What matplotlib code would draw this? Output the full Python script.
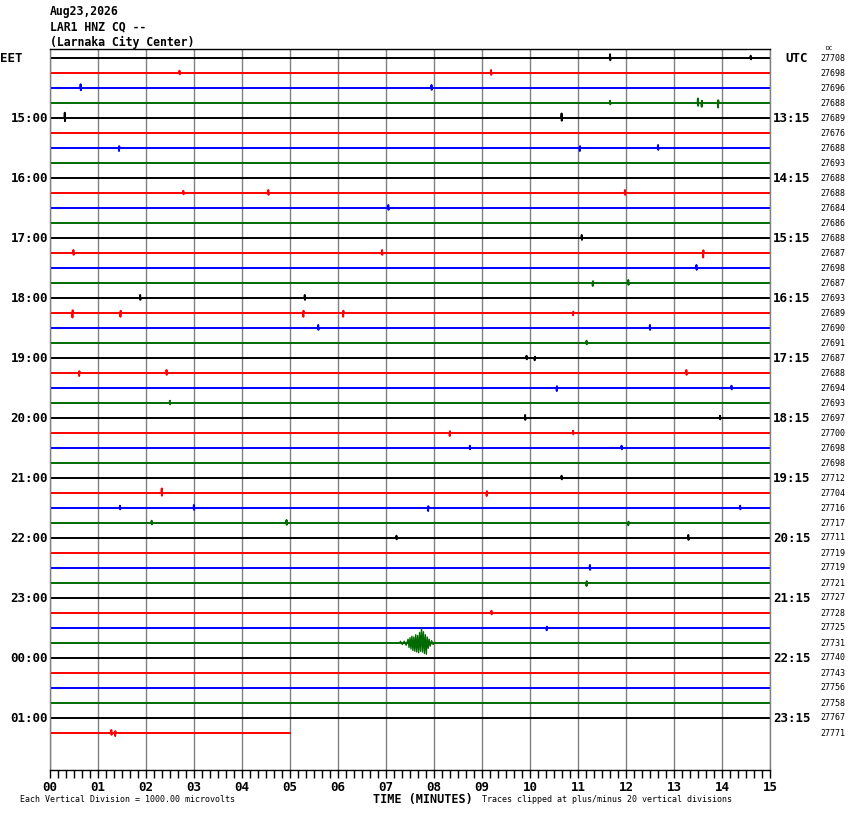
import numpy as np
import matplotlib
matplotlib.use("Agg")
import matplotlib.pyplot as plt

# ---------------- data ----------------
header_lines = ["Aug23,2026", "LAR1 HNZ CQ --", "(Larnaka City Center)"]
n_rows = 46
row_colors = ["#000000", "#ff0000", "#0000ff", "#006a00"]
last_row_end_min = 5.0
left_hour_labels = ["15:00", "16:00", "17:00", "18:00", "19:00", "20:00",
                    "21:00", "22:00", "23:00", "00:00", "01:00"]
right_hour_labels = ["13:15", "14:15", "15:15", "16:15", "17:15", "18:15",
                     "19:15", "20:15", "21:15", "22:15", "23:15"]
hour_label_rows = [4, 8, 12, 16, 20, 24, 28, 32, 36, 40, 44]
dc_values = [27708, 27698, 27696, 27688, 27689, 27676, 27688, 27693,
             27688, 27688, 27684, 27686, 27688, 27687, 27698, 27687,
             27693, 27689, 27690, 27691, 27687, 27688, 27694, 27693,
             27697, 27700, 27698, 27698, 27712, 27704, 27716, 27717,
             27711, 27719, 27719, 27721, 27727, 27728, 27725, 27731,
             27740, 27743, 27756, 27758, 27767, 27771]
minute_labels = ["%02d" % m for m in range(16)]

# notable spikes read from the record: (row, minute, amplitude in divisions, + = up)
spikes = [
    (0, 11.67, 0.25), (0, 14.6, 0.15), (1, 9.19, 0.2), (1, 2.7, 0.15),
    (2, 0.64, 0.25), (2, 7.95, 0.2), (3, 11.67, 0.15), (3, 13.5, 0.3),
    (3, 13.58, -0.25), (3, 13.92, -0.3), (4, 0.31, 0.35), (4, 10.66, 0.3),
    (6, 1.44, -0.2), (6, 11.04, -0.2), (6, 12.67, 0.2), (9, 2.78, 0.15),
    (9, 4.55, 0.2), (9, 11.98, 0.2), (10, 7.05, 0.2), (12, 11.08, 0.2),
    (13, 0.49, 0.2), (13, 6.92, 0.2), (13, 13.61, -0.3), (14, 13.47, 0.2),
    (15, 11.31, -0.2), (15, 12.05, 0.2), (16, 1.88, 0.2), (16, 5.31, 0.2),
    (17, 0.47, -0.3), (17, 1.47, -0.25), (17, 5.28, -0.25), (17, 6.11, -0.25),
    (17, 10.9, -0.15), (18, 5.59, 0.2), (18, 12.5, 0.2), (19, 11.18, 0.15),
    (20, 9.93, 0.15), (20, 10.1, -0.15), (21, 0.61, -0.2), (21, 2.43, 0.2),
    (21, 13.26, 0.2), (22, 10.56, -0.2), (22, 14.2, 0.15), (23, 2.5, 0.15),
    (24, 9.9, 0.2), (24, 13.96, 0.15), (25, 8.33, -0.2), (25, 10.9, 0.15),
    (26, 8.75, 0.15), (26, 11.91, 0.15), (28, 10.66, 0.15), (29, 2.33, 0.3),
    (29, 9.1, -0.2), (30, 1.46, 0.15), (30, 3.0, 0.2), (30, 7.88, -0.2),
    (30, 14.38, 0.15), (31, 2.12, 0.15), (31, 4.93, 0.2), (31, 12.05, -0.15),
    (32, 7.22, 0.15), (32, 13.3, 0.2), (34, 11.25, 0.2), (35, 11.18, -0.2),
    (37, 9.2, 0.15), (38, 10.35, -0.15), (45, 1.28, 0.2), (45, 1.36, -0.2),
]

# local earthquake on row 39 (green)
event_row = 39
event_minutes = [7.30, 7.34, 7.38, 7.42, 7.46, 7.48, 7.50, 7.52, 7.54, 7.56,
                 7.58, 7.60, 7.62, 7.64, 7.66, 7.68, 7.70, 7.72, 7.74, 7.76,
                 7.78, 7.80, 7.82, 7.84, 7.86, 7.88, 7.90, 7.92, 7.95, 7.98, 8.02]
event_amps = [0.10, -0.10, 0.12, -0.15, 0.25, -0.30, 0.35, -0.40, 0.45, -0.50,
              0.40, -0.55, 0.55, -0.60, 0.50, -0.65, 0.70, -0.55, 0.98, -0.60,
              0.75, -0.70, 0.55, -0.75, 0.40, -0.35, 0.25, -0.20, 0.15, -0.10, 0.05]

# ---------------- figure ----------------
W, H = 850, 814
fig = plt.figure(figsize=(W / 100, H / 100), dpi=100)
ax_left, ax_right, ax_top, ax_bot = 50, 770, 49, 770
ax = fig.add_axes([ax_left / W, 1 - ax_bot / H, (ax_right - ax_left) / W,
                   (ax_bot - ax_top) / H])
row0_px, row_px = 58, 15
ax.set_xlim(0, 15)
ax.set_ylim((ax_bot - row0_px) / row_px, (ax_top - row0_px) / row_px)

mono = "DejaVu Sans Mono"

for m in range(16):
    ax.axvline(m, color="#808080", lw=1.0, zorder=1)

for r in range(n_rows):
    end = last_row_end_min if r == n_rows - 1 else 15.0
    pts = [(0.0, 0.0), (end, 0.0)]
    for rr, m, a in spikes:
        if rr == r:
            pts += [(m - 0.008, 0.0), (m - 0.002, a), (m + 0.002, -0.6 * a), (m + 0.008, 0.0)]
    if r == event_row:
        pts += [(event_minutes[0] - 0.02, 0.0), (event_minutes[-1] + 0.02, 0.0)]
    pts.sort()
    xs = np.array([p[0] for p in pts])
    ys = np.array([p[1] for p in pts])
    ax.plot(xs, r - ys, color=row_colors[r % 4], lw=1.4, zorder=2)

# earthquake waveform drawn with a thinner pen so the swings stay apart
ax.plot(event_minutes, event_row - np.array(event_amps),
        color=row_colors[event_row % 4], lw=1.0, zorder=3)

for sp in ["left", "right"]:
    ax.spines[sp].set_color("#808080")
    ax.spines[sp].set_linewidth(1.0)
for sp in ["top", "bottom"]:
    ax.spines[sp].set_color("black")
    ax.spines[sp].set_linewidth(1.0)

ax.set_yticks([])
ax.set_xticks(range(16))
ax.set_xticks(np.arange(0, 15.001, 1 / 6), minor=True)
ax.set_xticklabels(minute_labels, fontfamily=mono, fontweight="bold", fontsize=9)
ax.tick_params(axis="x", which="both", direction="out", length=6, width=1,
               color="black", pad=2)

# left / right labels
for lab, r in zip(left_hour_labels, hour_label_rows):
    ax.annotate(lab, xy=(0, r), xycoords=("axes fraction", "data"),
                xytext=(-2, 0), textcoords="offset pixels", ha="right",
                va="center", fontfamily=mono, fontweight="bold", fontsize=9)
for lab, r in zip(right_hour_labels, hour_label_rows):
    ax.annotate(lab, xy=(1, r), xycoords=("axes fraction", "data"),
                xytext=(3, 0), textcoords="offset pixels", ha="left",
                va="center", fontfamily=mono, fontweight="bold", fontsize=9)
for r, v in enumerate(dc_values):
    ax.annotate(str(v), xy=(1, r), xycoords=("axes fraction", "data"),
                xytext=(50, 0), textcoords="offset pixels", ha="left",
                va="center", fontfamily=mono, fontsize=6)
ax.annotate("EET", xy=(0, 0), xycoords=("axes fraction", "data"),
            xytext=(-50, 0), textcoords="offset pixels", ha="left",
            va="center", fontfamily=mono, fontweight="bold", fontsize=9)
ax.annotate("UTC", xy=(1, 0), xycoords=("axes fraction", "data"),
            xytext=(15, 0), textcoords="offset pixels", ha="left",
            va="center", fontfamily=mono, fontweight="bold", fontsize=9)
fig.text(826 / W, 1 - 49 / H, "DC", fontfamily=mono, fontsize=4.5,
         ha="left", va="center")

# header
for i, line in enumerate(header_lines):
    fig.text(50 / W, 1 - (12 + 15 * i) / H, line, fontfamily=mono,
             fontweight="bold", fontsize=8.3, ha="left", va="center")

# footer
fig.text(423 / W, 1 - 799 / H, "TIME (MINUTES)", fontfamily=mono,
         fontweight="bold", fontsize=8.5, ha="center", va="center")
fig.text(20 / W, 1 - 800 / H, "Each Vertical Division = 1000.00 microvolts",
         fontfamily=mono, fontsize=6, ha="left", va="center")
fig.text(482 / W, 1 - 800 / H,
         "Traces clipped at plus/minus 20 vertical divisions",
         fontfamily=mono, fontsize=6, ha="left", va="center")

fig.savefig("out.png", dpi=100, facecolor="white")
